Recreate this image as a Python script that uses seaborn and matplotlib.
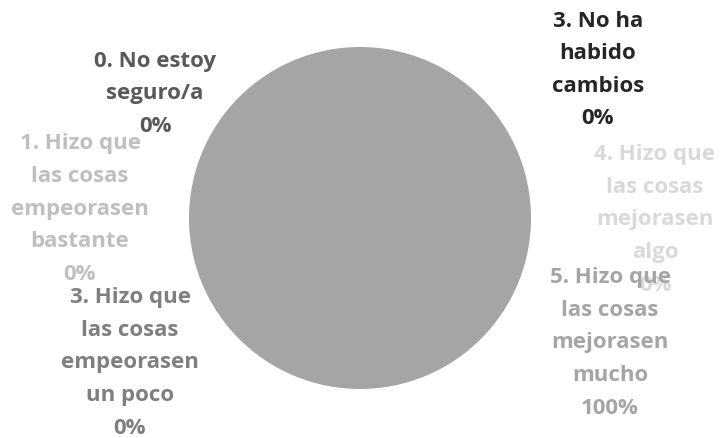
import matplotlib
matplotlib.use("Agg")
import matplotlib.pyplot as plt
import seaborn as sns

categories = [
    "0. No estoy\nseguro/a",
    "1. Hizo que\nlas cosas\nempeorasen\nbastante",
    "3. Hizo que\nlas cosas\nempeorasen\nun poco",
    "3. No ha\nhabido\ncambios",
    "4. Hizo que\nlas cosas\nmejorasen\nalgo",
    "5. Hizo que\nlas cosas\nmejorasen\nmucho",
]
values = [0, 0, 0, 0, 0, 100]
percent_labels = ["0%", "0%", "0%", "0%", "0%", "100%"]

slice_colors = ["#595959", "#bfbfbf", "#7f7f7f", "#262626", "#d9d9d9", "#a5a5a5"]

# label centre positions in pixels (x, y from top)
label_pos = [(155, 94), (80, 209), (130, 363), (598, 70), (655, 220), (610, 343)]

sns.set_theme(style="white")
plt.rcParams['font.family'] = ['Open Sans', 'DejaVu Sans']

W, H = 722, 439
fig = plt.figure(figsize=(W / 100, H / 100), dpi=100)
cx, cy, r = 360, 219, 171
ax = fig.add_axes([(cx - r) / W, (H - cy - r) / H, 2 * r / W, 2 * r / H])
ax.pie(values, colors=slice_colors, startangle=90, counterclock=False,
       radius=1, wedgeprops=dict(linewidth=0))
ax.set_xlim(-1, 1)
ax.set_ylim(-1, 1)
ax.set_aspect("equal")
ax.axis("off")

for cat, pct, col, (px, py) in zip(categories, percent_labels, slice_colors, label_pos):
    fig.text(px / W, 1 - py / H, f"{cat}\n{pct}", ha="center", va="center",
             color=col, fontsize=16, fontweight="bold", linespacing=1.72,
             multialignment="center")

fig.savefig("out.png", dpi=100)
